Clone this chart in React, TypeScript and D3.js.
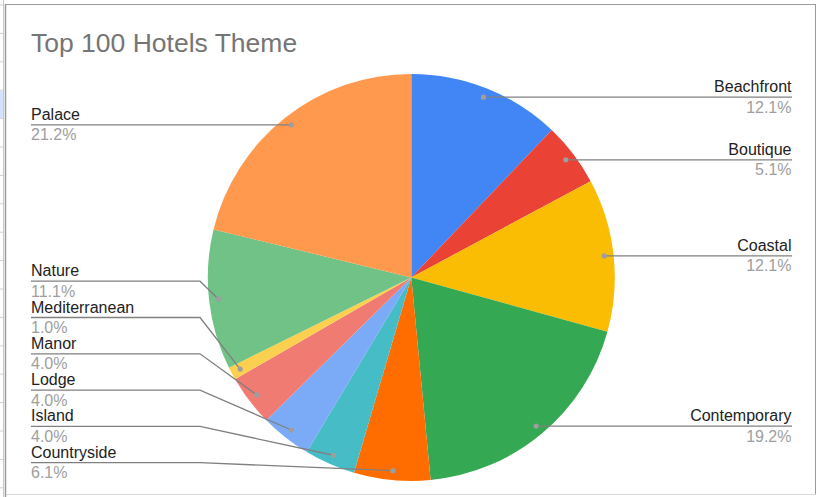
import * as d3 from 'd3';

const categories = ['Beachfront', 'Boutique', 'Coastal', 'Contemporary', 'Countryside', 'Island', 'Lodge', 'Manor', 'Mediterranean', 'Nature', 'Palace'];
const counts = [12, 5, 12, 19, 6, 4, 4, 4, 1, 11, 21];
const colors = ['#4285f4', '#ea4335', '#fbbc04', '#34a853', '#ff6d01', '#46bdc6', '#7baaf7', '#f07b72', '#fcd04f', '#71c287', '#ff994d'];
const title = 'Top 100 Hotels Theme';

const W = 817;
const H = 497;
const cx = 411.3;
const cy = 277.4;
const R = 203.5;
const dotR = R * 0.954;
const gap = 36.3;
const maxY = 462.7;
const font = 'Arial, "Liberation Sans", sans-serif';

export default function App() {
  const total = d3.sum(counts);
  const pie = d3.pie<number>().value((d) => d).sort(null);
  const arcs = pie(counts);
  const arc = d3.arc<d3.PieArcDatum<number>>().innerRadius(0).outerRadius(R);

  // label anchor dots on the slice mid angles
  const items = arcs.map((a, i) => {
    const mid = (a.startAngle + a.endAngle) / 2;
    const dx = cx + dotR * Math.sin(mid);
    const dy = cy - dotR * Math.cos(mid);
    return { i, dx, dy, right: mid < Math.PI, ly: dy };
  });

  // stack labels on each side so they don't collide
  [true, false].forEach((side) => {
    const list = items.filter((d) => d.right === side).sort((a, b) => a.dy - b.dy);
    let next = maxY + gap;
    for (let k = list.length - 1; k >= 0; k--) {
      list[k].ly = Math.min(list[k].dy, next - gap);
      next = list[k].ly;
    }
  });

  const pct = d3.format('.1%');

  return (
    <svg width={W} height={H} style={{ position: 'absolute', left: 0, top: 0, background: '#fff' }}>
      {/* spreadsheet strip behind the chart */}
      <rect x={0} y={91} width={4} height={27} fill="#d3e3fd" />
      {d3.range(5, 497, 28.4).map((y) => (
        <line key={y} x1={0} x2={4} y1={y} y2={y} stroke="#d0d0d0" />
      ))}
      <line x1={3.5} x2={3.5} y1={0} y2={H} stroke="#c8c8c8" />
      <line x1={5.5} x2={5.5} y1={4} y2={H} stroke="#9a9a9a" strokeWidth={1.5} />
      <line x1={5} x2={816} y1={4.5} y2={4.5} stroke="#9a9a9a" />
      <line x1={815.5} x2={815.5} y1={4} y2={494} stroke="#9a9a9a" />
      <line x1={6} x2={816} y1={494.5} y2={494.5} stroke="#d8d8d8" />

      <text x={31} y={52} fontFamily={font} fontSize={26.5} fill="#757575">{title}</text>

      <g transform={`translate(${cx},${cy})`}>
        {arcs.map((a, i) => (
          <path key={categories[i]} d={arc(a) || ''} fill={colors[i]} />
        ))}
      </g>

      {items.map((d) => {
        const path = d.right
          ? `M${d.dx},${d.dy}L${2 * cx - 200},${d.ly}L792,${d.ly}`
          : `M${d.dx},${d.dy}L200,${d.ly}L31,${d.ly}`;
        const tx = d.right ? 791.5 : 31;
        const anchor = d.right ? 'end' : 'start';
        return (
          <g key={categories[d.i]}>
            <path d={path} fill="none" stroke="#808080" strokeWidth={1.3} />
            <circle cx={d.dx} cy={d.dy} r={2.6} fill="#9e9e9e" />
            <text x={tx} y={d.ly - 5} textAnchor={anchor} fontFamily={font} fontSize={16} fill="#222">
              {categories[d.i]}
            </text>
            <text x={tx} y={d.ly + 15.5} textAnchor={anchor} fontFamily={font} fontSize={16} fill="#9e9e9e">
              {pct(counts[d.i] / total)}
            </text>
          </g>
        );
      })}
    </svg>
  );
}
